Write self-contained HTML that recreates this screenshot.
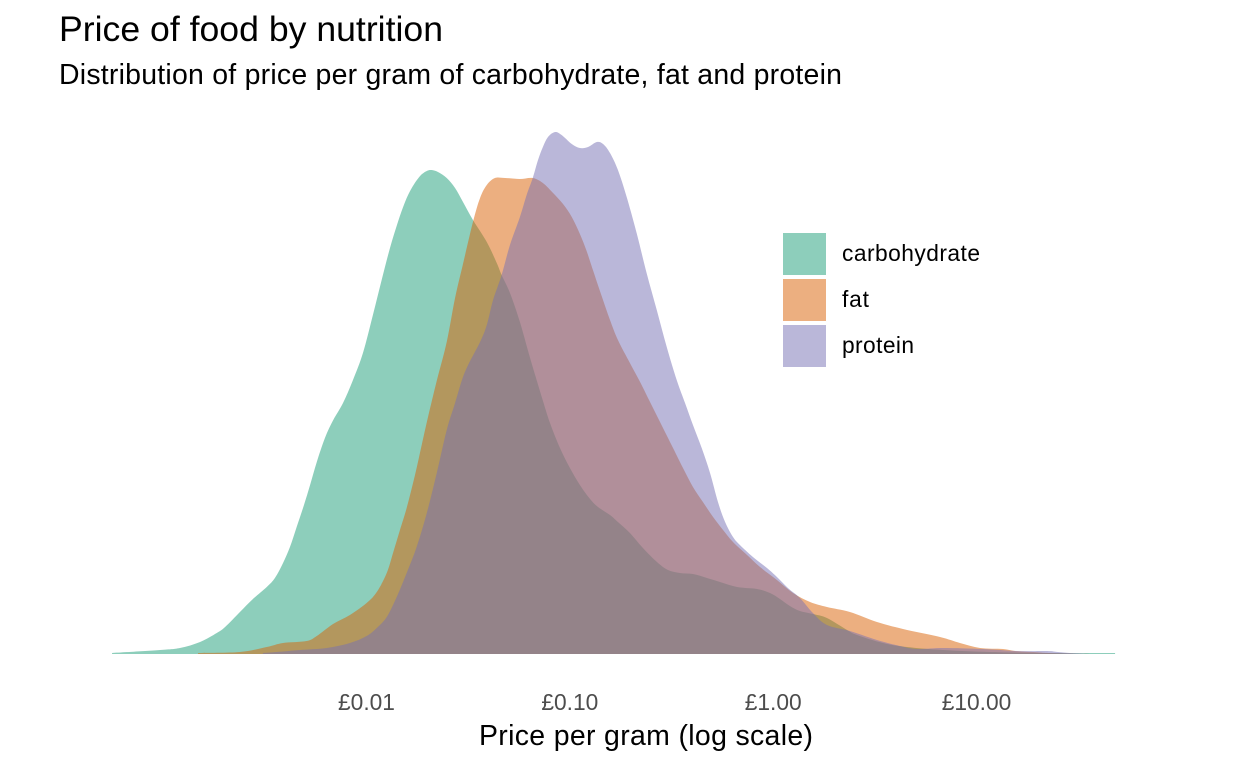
<!DOCTYPE html>
<html lang="en">
<head>
<meta charset="utf-8">
<title>Price of food by nutrition</title>
<style>
html,body{margin:0;padding:0;background:#fff;}
svg{display:block;font-family:"Liberation Sans",sans-serif;}
</style>
</head>
<body>
<svg id="chart" xmlns="http://www.w3.org/2000/svg" width="1248" height="768" viewBox="0 0 1248 768">
  <rect width="1248" height="768" fill="#ffffff"/>
  <text x="59" y="41" font-size="35.6" textLength="384" lengthAdjust="spacing" fill="#000">Price of food by nutrition</text>
  <text x="59" y="84" font-size="28.45" textLength="783" lengthAdjust="spacing" fill="#000">Distribution of price per gram of carbohydrate, fat and protein</text>
  <g id="areas"></g>
  <g id="ticks"></g>
  <text x="646" y="745" font-size="28.45" text-anchor="middle" textLength="334" lengthAdjust="spacing" fill="#000">Price per gram (log scale)</text>
  <g>
    <rect x="783" y="233" width="43" height="42" fill="#1b9e77" fill-opacity="0.5"/>
    <text x="842" y="261" font-size="22.76" textLength="138" lengthAdjust="spacing" fill="#000">carbohydrate</text>
    <rect x="783" y="279" width="43" height="42" fill="#d95f02" fill-opacity="0.5"/>
    <text x="842" y="307" font-size="22.76" textLength="27" lengthAdjust="spacing" fill="#000">fat</text>
    <rect x="783" y="325" width="43" height="42" fill="#7570b3" fill-opacity="0.5"/>
    <text x="842" y="353" font-size="22.76" textLength="72" lengthAdjust="spacing" fill="#000">protein</text>
  </g>
</svg>
<script>
const carbLogPrice = [-3.249,-3.013,-2.915,-2.816,-2.734,-2.693,-2.620,-2.556,-2.488,-2.448,-2.408,-2.374,-2.341,-2.305,-2.275,-2.242,-2.202,-2.161,-2.113,-2.064,-2.015,-1.966,-1.923,-1.882,-1.843,-1.808,-1.775,-1.734,-1.701,-1.677,-1.646,-1.603,-1.562,-1.523,-1.474,-1.406,-1.357,-1.333,-1.292,-1.243,-1.193,-1.131,-1.095,-1.046,-0.997,-0.948,-0.898,-0.859,-0.800,-0.761,-0.702,-0.638,-0.569,-0.515,-0.456,-0.392,-0.323,-0.259,-0.175,-0.077,-0.013,0.036,0.085,0.134,0.198,0.267,0.366,0.415,0.543,0.661,0.838,1.069,1.364,1.684];
const carbDensity = [0.001,0.004,0.006,0.012,0.021,0.027,0.042,0.055,0.067,0.076,0.091,0.107,0.127,0.149,0.169,0.192,0.216,0.234,0.251,0.274,0.301,0.339,0.374,0.406,0.432,0.452,0.466,0.478,0.483,0.484,0.482,0.476,0.466,0.452,0.434,0.412,0.391,0.379,0.361,0.332,0.296,0.254,0.231,0.206,0.186,0.169,0.155,0.147,0.139,0.132,0.121,0.106,0.092,0.084,0.081,0.080,0.076,0.072,0.067,0.065,0.061,0.055,0.048,0.043,0.040,0.036,0.024,0.019,0.011,0.007,0.004,0.002,0.001,0.001];
const fatLogPrice = [-2.826,-2.620,-2.488,-2.408,-2.292,-2.242,-2.162,-2.079,-1.997,-1.947,-1.898,-1.867,-1.833,-1.800,-1.759,-1.726,-1.695,-1.651,-1.603,-1.562,-1.523,-1.474,-1.439,-1.406,-1.366,-1.316,-1.243,-1.180,-1.130,-1.080,-1.031,-0.988,-0.948,-0.915,-0.884,-0.841,-0.800,-0.761,-0.702,-0.652,-0.608,-0.554,-0.490,-0.441,-0.392,-0.343,-0.293,-0.244,-0.195,-0.126,-0.062,0.021,0.100,0.184,0.267,0.380,0.513,0.641,0.823,0.921,1.020,1.133,1.192,1.280,1.364,1.561];
const fatDensity = [0.001,0.002,0.007,0.011,0.013,0.018,0.030,0.039,0.051,0.062,0.081,0.101,0.124,0.146,0.179,0.209,0.237,0.274,0.312,0.356,0.390,0.432,0.456,0.469,0.476,0.476,0.475,0.476,0.471,0.461,0.450,0.437,0.420,0.403,0.384,0.358,0.334,0.314,0.291,0.272,0.254,0.232,0.206,0.186,0.167,0.152,0.137,0.124,0.112,0.099,0.087,0.074,0.061,0.052,0.047,0.042,0.032,0.025,0.017,0.011,0.006,0.005,0.003,0.002,0.001,0];
const proteinLogPrice = [-2.507,-2.439,-2.325,-2.193,-2.079,-1.997,-1.947,-1.898,-1.849,-1.800,-1.751,-1.701,-1.652,-1.603,-1.562,-1.528,-1.498,-1.439,-1.406,-1.375,-1.333,-1.292,-1.243,-1.210,-1.180,-1.154,-1.130,-1.105,-1.070,-1.038,-0.988,-0.948,-0.908,-0.865,-0.834,-0.800,-0.761,-0.718,-0.669,-0.620,-0.570,-0.521,-0.472,-0.431,-0.392,-0.349,-0.308,-0.269,-0.234,-0.195,-0.161,-0.097,-0.028,0.021,0.075,0.134,0.198,0.267,0.380,0.513,0.626,0.710,0.838,1.034,1.202,1.349,1.403,1.462,1.561];
const proteinDensity = [0.001,0.002,0.004,0.006,0.011,0.018,0.026,0.037,0.057,0.081,0.107,0.141,0.181,0.224,0.251,0.274,0.289,0.312,0.329,0.354,0.379,0.409,0.437,0.459,0.476,0.494,0.507,0.517,0.522,0.519,0.510,0.506,0.507,0.512,0.510,0.501,0.484,0.457,0.421,0.381,0.344,0.307,0.274,0.251,0.229,0.206,0.181,0.152,0.132,0.117,0.109,0.097,0.086,0.077,0.066,0.056,0.041,0.029,0.023,0.014,0.008,0.005,0.006,0.005,0.003,0.003,0.002,0.001,0];
const tickPrices = [0.01, 0.1, 1, 10];
const tickLabels = ["£0.01", "£0.10", "£1.00", "£10.00"];
const seriesNames = ["carbohydrate", "fat", "protein"];
const seriesColors = ["#1b9e77", "#d95f02", "#7570b3"];

const SVG_NS = "http://www.w3.org/2000/svg";
function xScale(logPrice) { return 366 + (logPrice + 2) * 203.33; }
function yScale(density) { return 654 - density * 1000; }

function areaPath(xs, ds) {
  const pts = xs.map((x, i) => [xScale(x), yScale(ds[i])]);
  let d = "M" + pts[0][0].toFixed(2) + " 654 L" + pts[0][0].toFixed(2) + " " + pts[0][1].toFixed(2);
  for (let i = 0; i < pts.length - 1; i++) {
    const p0 = pts[Math.max(i - 1, 0)], p1 = pts[i], p2 = pts[i + 1], p3 = pts[Math.min(i + 2, pts.length - 1)];
    const c1x = p1[0] + (p2[0] - p0[0]) / 6, c1y = p1[1] + (p2[1] - p0[1]) / 6;
    const c2x = p2[0] - (p3[0] - p1[0]) / 6, c2y = p2[1] - (p3[1] - p1[1]) / 6;
    d += " C" + c1x.toFixed(2) + " " + Math.min(c1y, 654).toFixed(2) + " " + c2x.toFixed(2) + " " + Math.min(c2y, 654).toFixed(2) + " " + p2[0].toFixed(2) + " " + p2[1].toFixed(2);
  }
  d += " L" + pts[pts.length - 1][0].toFixed(2) + " 654 Z";
  return d;
}

const seriesX = [carbLogPrice, fatLogPrice, proteinLogPrice];
const seriesY = [carbDensity, fatDensity, proteinDensity];
const areas = document.getElementById("areas");
seriesNames.forEach((name, i) => {
  const el = document.createElementNS(SVG_NS, "path");
  
  
  el.setAttribute("d", areaPath(seriesX[i], seriesY[i]));
  el.setAttribute("fill", seriesColors[i]);
  el.setAttribute("fill-opacity", "0.5");
  areas.appendChild(el);
});

const ticks = document.getElementById("ticks");
tickPrices.forEach((price, i) => {
  const el = document.createElementNS(SVG_NS, "text");
  
  
  el.setAttribute("x", xScale(Math.log10(price)) + 0.5);
  el.setAttribute("y", 710);
  el.setAttribute("font-size", "22.76");
  el.setAttribute("text-anchor", "middle");
  el.setAttribute("fill", "#4d4d4d");
  el.textContent = tickLabels[i];
  ticks.appendChild(el);
});
</script>
</body>
</html>
